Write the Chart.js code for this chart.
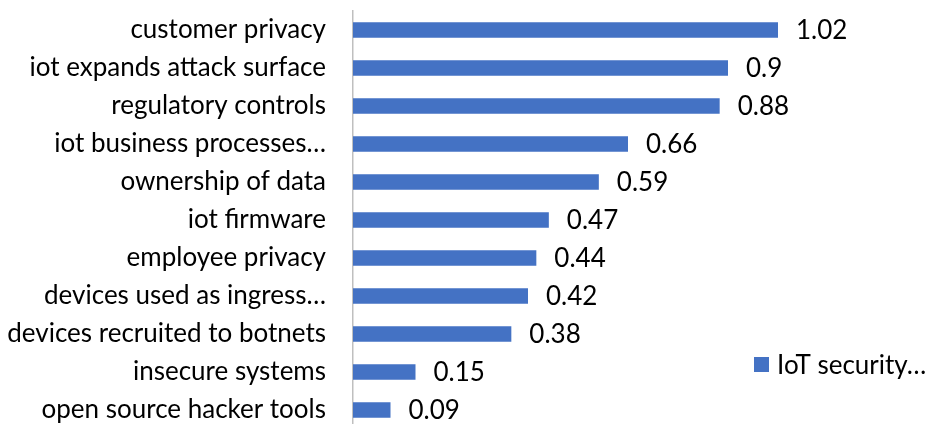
<!DOCTYPE html>
<html lang="en">
<head>
    <meta charset="UTF-8">
    <title>IoT security</title>
    <style>
        body, html {
            margin: 0;
            padding: 0;
            width: 928px;
            height: 424px;
            overflow: hidden;
            background: #ffffff;
        }
        canvas {
            display: block;
        }
    </style>
</head>
<body>
    <canvas id="chart" width="928" height="440"></canvas>

    <script src="https://cdn.jsdelivr.net/npm/chart.js"></script>
    <script>
        const categories = [
            'customer privacy',
            'iot expands attack surface',
            'regulatory controls',
            'iot business processes\u2026',
            'ownership of data',
            'iot firmware',
            'employee privacy',
            'devices used as ingress\u2026',
            'devices recruited to botnets',
            'insecure systems',
            'open source hacker tools'
        ];
        const values = [1.02, 0.9, 0.88, 0.66, 0.59, 0.47, 0.44, 0.42, 0.38, 0.15, 0.09];
        const seriesName = 'IoT security\u2026';

        const FONT = 'Lato, "Open Sans", sans-serif';
        const FONT_SIZE = 26;

        // value labels at the end of each bar + legend box bottom right
        const labelPlugin = {
            id: 'barLabels',
            afterDatasetsDraw(chart) {
                const ctx = chart.ctx;
                const meta = chart.getDatasetMeta(0);
                ctx.save();
                ctx.font = FONT_SIZE + 'px ' + FONT;
                ctx.fillStyle = '#000000';
                ctx.textAlign = 'left';
                ctx.textBaseline = 'middle';
                meta.data.forEach((bar, i) => {
                    ctx.fillText(String(values[i]), bar.x + 18, bar.y + 1);
                });

                // legend
                const ds = chart.data.datasets[0];
                ctx.fillStyle = ds.backgroundColor;
                ctx.fillRect(754, 357, 15, 15);
                ctx.fillStyle = '#000000';
                ctx.fillText(ds.label, 777, 366);
                ctx.restore();
            }
        };

        new Chart(document.getElementById('chart'), {
            type: 'bar',
            data: {
                labels: categories,
                datasets: [{
                    label: seriesName,
                    data: values,
                    backgroundColor: '#4472C4',
                    borderWidth: 0,
                    categoryPercentage: 1,
                    barPercentage: 0.41
                }]
            },
            options: {
                indexAxis: 'y',
                responsive: false,
                animation: false,
                devicePixelRatio: 1,
                layout: { padding: { top: 11, bottom: 11, left: 0, right: 75 } },
                plugins: {
                    legend: { display: false },
                    tooltip: { enabled: false }
                },
                scales: {
                    x: {
                        display: false,
                        min: 0,
                        max: 1.2
                    },
                    y: {
                        afterFit: (s) => {
                            s.width = 353;
                            s.paddingTop = 0;
                            s.paddingBottom = 0;
                        },
                        grid: { display: false, drawTicks: false },
                        border: { display: true, color: '#BFBFBF', width: 1.5 },
                        ticks: {
                            padding: 27,
                            autoSkip: false,
                            color: '#000000',
                            font: { family: FONT, size: FONT_SIZE }
                        }
                    }
                }
            },
            plugins: [labelPlugin]
        });
    </script>
</body>
</html>
